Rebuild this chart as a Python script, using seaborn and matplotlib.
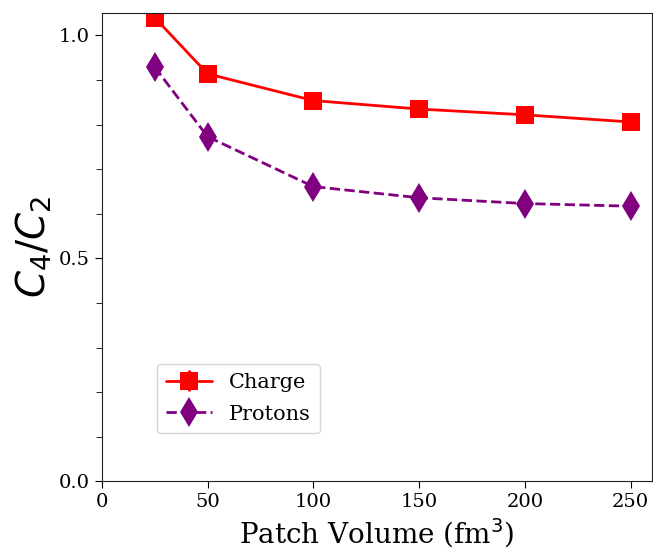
import matplotlib
matplotlib.use("Agg")
import matplotlib.pyplot as plt
import seaborn as sns
import pandas as pd
from matplotlib.ticker import MultipleLocator

volume = [25, 50, 100, 150, 200, 250]
charge = [1.040, 0.914, 0.854, 0.835, 0.822, 0.806]
protons = [0.929, 0.773, 0.661, 0.636, 0.623, 0.617]
charge_err = [0.003, 0.003, 0.003, 0.003, 0.003, 0.003]
protons_err = [0.003, 0.003, 0.003, 0.003, 0.003, 0.003]

sns.set_style("ticks")
plt.rcParams['font.family'] = ['DejaVu Serif']
plt.rcParams['mathtext.fontset'] = 'dejavusans'
for k in ['text.color', 'axes.labelcolor', 'xtick.color', 'ytick.color']:
    plt.rcParams[k] = 'black'

fig = plt.figure(figsize=(6.53, 5.5), dpi=100)
ax = fig.add_axes([0.156, 0.125, 0.842, 0.851])

df_c = pd.DataFrame({"V": volume, "R": charge})
df_p = pd.DataFrame({"V": volume, "R": protons})

sns.lineplot(data=df_c, x="V", y="R", ax=ax, color="red", marker="s",
             markersize=13, markeredgewidth=0, linewidth=2, linestyle="-")
sns.lineplot(data=df_p, x="V", y="R", ax=ax, color="purple", marker="d",
             markersize=15, markeredgewidth=0, linewidth=2)
ax.lines[1].set_linestyle("--")

eb_c = ax.errorbar(volume, charge, yerr=charge_err, fmt="none", ecolor="red", elinewidth=2)
eb_p = ax.errorbar(volume, protons, yerr=protons_err, fmt="none", ecolor="purple", elinewidth=2)

h_c = ax.lines[0]
h_p = ax.lines[1]
leg = ax.legend([(h_c, eb_c), (h_p, eb_p)], ["Charge", "Protons"],
                loc="lower left", bbox_to_anchor=(0.1, 0.103), borderaxespad=0,
                fontsize=15, frameon=True, handlelength=2.2, handletextpad=0.8,
                labelspacing=0.6, borderpad=0.45)
leg.get_frame().set_edgecolor("#cccccc")

ax.set_xlim(0, 260)
ax.set_ylim(0, 1.05)
ax.set_xticks([0, 50, 100, 150, 200, 250])
ax.set_yticks([0.0, 0.5, 1.0])
ax.yaxis.set_minor_locator(MultipleLocator(0.1))
ax.tick_params(axis="both", which="major", labelsize=14, length=5, direction="out")
ax.tick_params(axis="y", which="minor", length=4, direction="out")

ax.set_xlabel("Patch Volume (fm$^3$)", fontsize=20)
ax.set_ylabel("$C_4/C_2$", fontsize=28)

for s in ax.spines.values():
    s.set_color("#222222")

fig.savefig("out.png", dpi=100)
